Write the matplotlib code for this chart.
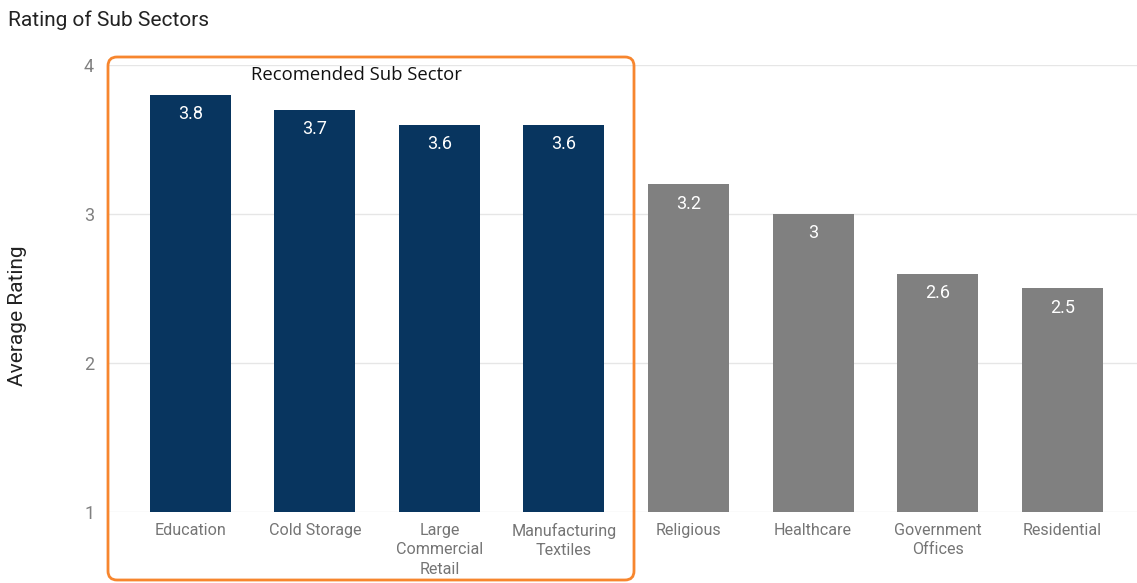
import matplotlib.pyplot as plt
from matplotlib.patches import FancyBboxPatch

plt.rcParams['font.family'] = ['Roboto', 'DejaVu Sans']

# Ratings per sub sector
sectors = ["Education", "Cold Storage", "Large\nCommercial\nRetail",
           "Manufacturing\nTextiles", "Religious", "Healthcare",
           "Government\nOffices", "Residential"]
ratings = [3.8, 3.7, 3.6, 3.6, 3.2, 3.0, 2.6, 2.5]
value_labels = ["3.8", "3.7", "3.6", "3.6", "3.2", "3", "2.6", "2.5"]
recommended = [True, True, True, True, False, False, False, False]

NAVY = "#08355F"
GREY = "#808080"
ORANGE = "#F7862E"

fig = plt.figure(figsize=(11.37, 5.83), dpi=100)
ax = fig.add_axes([0.095, 0.1218, 0.905, 0.7667])

x = list(range(len(sectors)))
colors = [NAVY if r else GREY for r in recommended]
bars = ax.bar(x, [r - 1 for r in ratings], bottom=1, width=0.65,
              color=colors, zorder=3)

for b, lab in zip(bars, value_labels):
    ax.text(b.get_x() + b.get_width() / 2, b.get_y() + b.get_height() - 0.13,
            lab, ha="center", va="center", color="white", fontsize=13, zorder=4)

ax.set_xlim(-0.66, 7.6)
ax.set_ylim(1, 4)
ax.set_yticks([1, 2, 3, 4])
ax.set_xticks(x)
ax.set_xticklabels(sectors, fontsize=11.6, color="#757575", linespacing=1.35)
ax.tick_params(axis="y", labelsize=13, labelcolor="#808080", length=0, pad=10)
ax.tick_params(axis="x", length=0, pad=8)
ax.grid(axis="y", color="#E6E6E6", linewidth=1, zorder=0)
for s in ax.spines.values():
    s.set_visible(False)

ax.set_ylabel("Average Rating", fontsize=15, color="#222222")
ax.yaxis.set_label_coords(-0.079, 0.44)
fig.text(0.007, 0.965, "Rating of Sub Sectors", fontsize=15, color="#222222",
         ha="left", va="center")

# highlight box around the recommended group (display pixels)
box = FancyBboxPatch((108, 583 - 580), 526, 523,
                     boxstyle="round,pad=0,rounding_size=9",
                     transform=None, fill=False, edgecolor=ORANGE,
                     linewidth=2, zorder=5)
fig.patches.append(box)
fig.text(356 / 1137, 1 - 75 / 583, "Recomended Sub Sector", fontsize=13.3,
         family=["Open Sans", "DejaVu Sans"], color="#111111",
         ha="center", va="center")

fig.savefig("out.png", dpi=100)
